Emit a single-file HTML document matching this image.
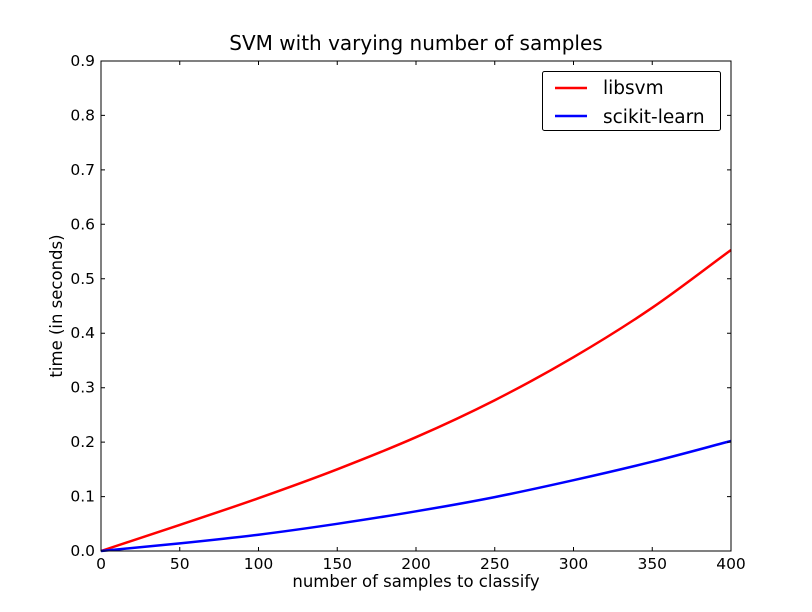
<!DOCTYPE html>
<html><head><style>body{margin:0;background:#fff}svg{display:block}</style></head><body>
<svg width="812" height="612" xmlns="http://www.w3.org/2000/svg" font-family="DejaVu Sans, Liberation Sans, sans-serif">
<rect width="812" height="612" fill="#fff"/>
<text x="416" y="50" font-size="20" text-anchor="middle">SVM with varying number of samples</text>
<path d="M101,551 C127.25,542.3 153.5,533.7 179.75,524.9 C206,516.1 232.25,507.5 258.5,498.2 C284.75,488.9 311,479.5 337.25,469.3 C363.5,459.1 389.75,448.7 416,437.2 C442.25,425.7 468.5,413.5 494.75,400.2 C521,386.9 547.25,372.6 573.5,357.2 C599.75,341.8 626,325.6 652.25,307.7 C678.5,289.8 704.75,269.2 731,250" fill="none" stroke="#f00" stroke-width="2.5"/>
<path d="M101,551 C127.25,548.5 153.5,546.1 179.75,543.4 C206,540.7 232.25,538 258.5,534.7 C284.75,531.4 311,527.7 337.25,523.8 C363.5,519.9 389.75,515.8 416,511.3 C442.25,506.9 468.5,502.3 494.75,497.1 C521,491.9 547.25,486.1 573.5,480.2 C599.75,474.3 626,468.2 652.25,461.7 C678.5,455.2 704.75,447.9 731,441" fill="none" stroke="#00f" stroke-width="2.5"/>
<rect x="101" y="61" width="630" height="490" fill="none" stroke="#000" stroke-width="1"/>
<g stroke="#000" stroke-width="1">
<path d="M179.75,551v-4M258.5,551v-4M337.25,551v-4M416,551v-4M494.75,551v-4M573.5,551v-4M652.25,551v-4M179.75,61v4M258.5,61v4M337.25,61v4M416,61v4M494.75,61v4M573.5,61v4M652.25,61v4"/>
<path d="M101,496.6h4M101,442.1h4M101,387.7h4M101,333.2h4M101,278.8h4M101,224.3h4M101,169.9h4M101,115.4h4M731,496.6h-4M731,442.1h-4M731,387.7h-4M731,333.2h-4M731,278.8h-4M731,224.3h-4M731,169.9h-4M731,115.4h-4"/>
</g>
<g font-size="15.5" text-anchor="middle">
<text x="101" y="569">0</text><text x="179.75" y="569">50</text><text x="258.5" y="569">100</text><text x="337.25" y="569">150</text><text x="416" y="569">200</text><text x="494.75" y="569">250</text><text x="573.5" y="569">300</text><text x="652.25" y="569">350</text><text x="731" y="569">400</text>
</g>
<g font-size="15.5" text-anchor="end">
<text x="95" y="556">0.0</text><text x="95" y="501.6">0.1</text><text x="95" y="447.1">0.2</text><text x="95" y="392.7">0.3</text><text x="95" y="338.2">0.4</text><text x="95" y="283.8">0.5</text><text x="95" y="229.3">0.6</text><text x="95" y="174.9">0.7</text><text x="95" y="120.4">0.8</text><text x="95" y="66">0.9</text>
</g>
<text x="416" y="587" font-size="16.5" text-anchor="middle">number of samples to classify</text>
<text transform="translate(62,306) rotate(-90)" font-size="16.5" text-anchor="middle">time (in seconds)</text>
<rect x="542.5" y="71.5" width="178" height="59" fill="#fff" stroke="#000" stroke-width="1" rx="2"/>
<path d="M555,88h32" stroke="#f00" stroke-width="2.5"/>
<path d="M555,116h32" stroke="#00f" stroke-width="2.5"/>
<text x="603" y="94" font-size="18.5">libsvm</text>
<text x="603" y="123" font-size="18.5">scikit-learn</text>
</svg>
</body></html>
